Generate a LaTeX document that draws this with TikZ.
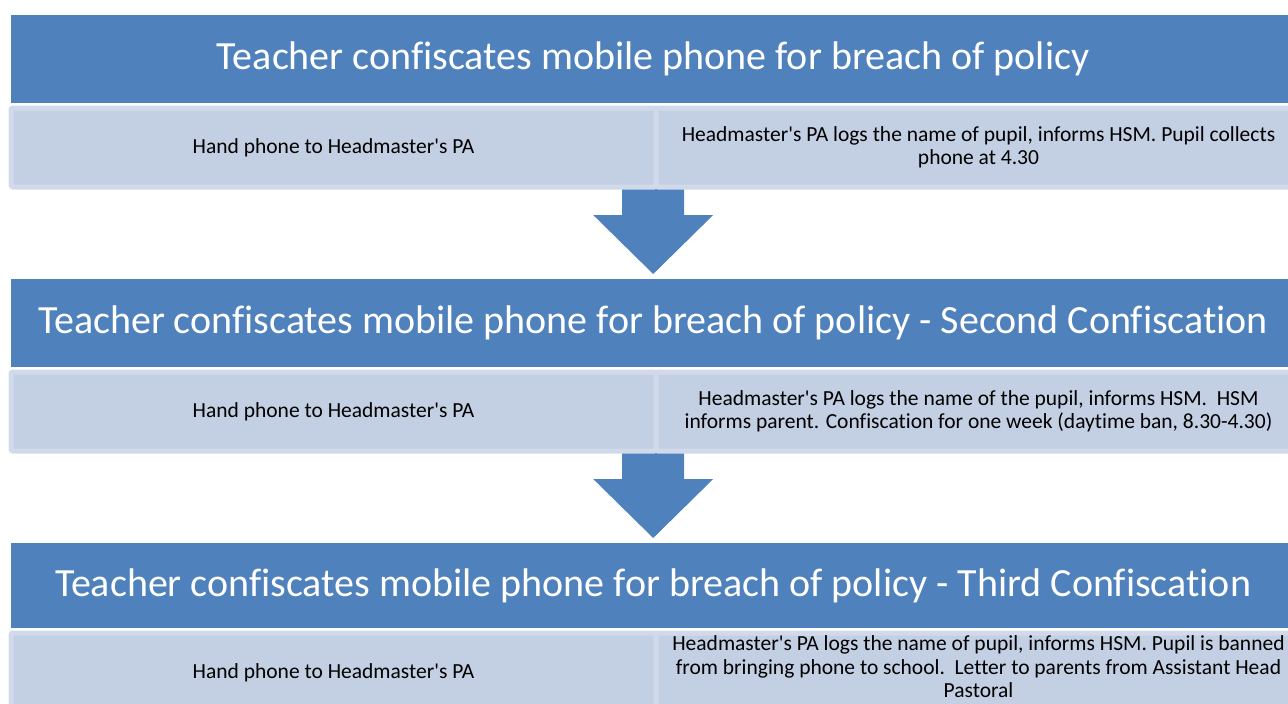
\documentclass[tikz,border=0pt]{standalone}
\usepackage{fontspec}
\setmainfont{Carlito}[Ligatures={TeX,NoCommon}]
\usetikzlibrary{calc,backgrounds}
\definecolor{hdrblue}{HTML}{4F81BD}
\definecolor{cellfill}{HTML}{C3CFE3}
\definecolor{cellrim}{HTML}{D1DAEA}
\newcommand{\apos}{\textquotesingle}
\begin{document}
\begin{tikzpicture}[x=1pt,y=-1pt,
  hdr/.style={fill=hdrblue, text=white, inner sep=0pt, minimum height=88pt,
    minimum width=1284pt, anchor=north west, font=\fontsize{40}{48}\selectfont},
  cell/.style={fill=cellfill, draw=cellrim, line width=5pt, rounded corners=2pt,
    inner sep=0pt, minimum height=79pt, minimum width=645pt, anchor=north west,
    align=center, text=black, font=\fontsize{21.5}{23.5}\selectfont},
  flow/.style={fill=hdrblue}
]
\useasboundingbox (0,0) rectangle (1288,704);
\clip (0,0) rectangle (1288,704);

% step 1
\node[hdr] (h1) at (11,15) {Teacher confiscates mobile phone for breach of policy};
\node[cell] (c1l) at (8.5,105.5) {Hand phone to Headmaster\apos s PA};
\node[cell] (c1r) at (653.5,105.5) {Headmaster\apos s PA logs the name of pupil, informs HSM. Pupil collects\\phone at 4.30};

% step 2
\node[hdr] (h2) at (11,279) {Teacher confiscates mobile phone for breach of policy - Second Confiscation};
\node[cell] (c2l) at (8.5,369.5) {Hand phone to Headmaster\apos s PA};
\node[cell] (c2r) at (653.5,369.5) {Headmaster\apos s PA logs the name of the pupil, informs HSM.\ \ HSM\\informs parent. Confiscation for one week (daytime ban, 8.30-4.30)};

% step 3
\node[hdr, minimum height=85pt] (h3) at (11,543) {Teacher confiscates mobile phone for breach of policy - Third Confiscation};
\node[cell] (c3l) at (8.5,630.5) {Hand phone to Headmaster\apos s PA};
\node[cell, text depth=11pt] (c3r) at (653.5,630.5) {Headmaster\apos s PA logs the name of pupil, informs HSM. Pupil is banned\\from bringing phone to school.\ \ Letter to parents from Assistant Head\\Pastoral};

% block arrows between the steps, tucked under the cells above
\begin{scope}[on background layer]
\foreach \src/\dst in {c1l/h2, c2l/h3}{
  \path[flow] let \p1=(\src.south east), \p2=(\dst.north) in
    (\x2-31pt,\y1+10pt) -- (\x2+31pt,\y1+10pt) -- (\x2+31pt,\y2+64pt)
    -- (\x2+60pt,\y2+64pt) -- (\x2,\y2+5pt) -- (\x2-60pt,\y2+64pt)
    -- (\x2-31pt,\y2+64pt) -- cycle;
}
\end{scope}
\end{tikzpicture}
\end{document}
